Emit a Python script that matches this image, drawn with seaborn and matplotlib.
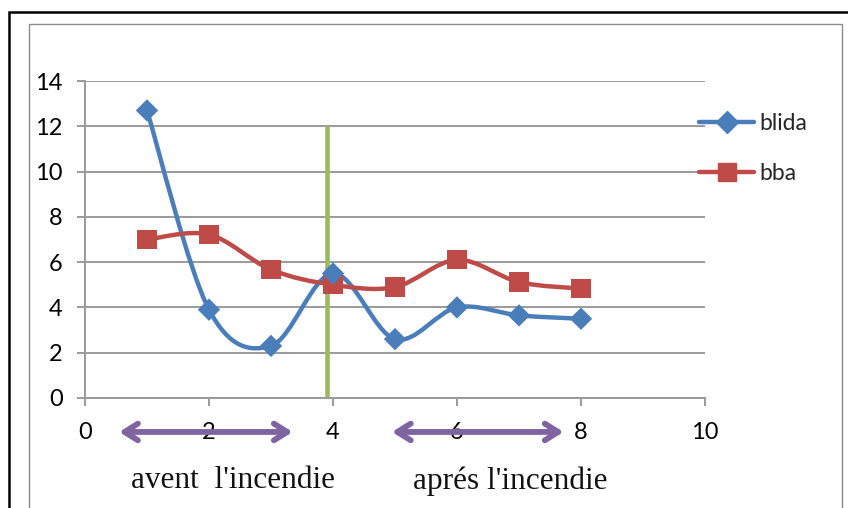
import matplotlib
matplotlib.use("Agg")
import matplotlib.pyplot as plt
from matplotlib.path import Path
from matplotlib.patches import PathPatch, Rectangle
from matplotlib.lines import Line2D
import numpy as np
import pandas as pd
import seaborn as sns

# ---- data ----
x_vals = [1, 2, 3, 4, 5, 6, 7, 8]
blida = [12.7, 3.9, 2.3, 5.5, 2.6, 4.0, 3.65, 3.5]
bba = [7.0, 7.22, 5.67, 5.0, 4.9, 6.1, 5.12, 4.83]
series_names = ["blida", "bba"]
x_ticks = [0, 2, 4, 6, 8, 10]
y_ticks = [0, 2, 4, 6, 8, 10, 12, 14]
fire_x = 3.9
fire_top = 12
before_label = "avent  l'incendie"
after_label = "aprés l'incendie"
before_span = [0.55, 3.35]
after_span = [4.95, 7.72]

BLUE = "#4A7EBB"
RED = "#BE4B48"
GREEN = "#9BBB59"
PURPLE = "#8064A2"
GRID = "#9A9A9A"

sns.set_theme(style="white")
plt.rcParams["font.family"] = ["Lato", "DejaVu Sans"]

fig = plt.figure(figsize=(8.48, 5.08), dpi=100)
W, H = 848, 508
ax = fig.add_axes([85 / W, 1 - 398 / H, (705 - 85) / W, (398 - 81) / H])

# frames
fig.patches.append(Rectangle((9 / W, -0.1), 2, 1 - 12 / H + 0.1, transform=fig.transFigure,
                             fill=False, edgecolor="black", linewidth=1.8, zorder=0))
fig.patches.append(Rectangle((29 / W, -0.1), (842 - 29) / W, 1 - 24 / H + 0.1, transform=fig.transFigure,
                             fill=False, edgecolor="#8C8C8C", linewidth=1.0, zorder=0))


def smooth_path(xs, ys):
    pts = np.column_stack([xs, ys]).astype(float)
    n = len(pts)
    verts = [pts[0]]
    codes = [Path.MOVETO]
    for i in range(n - 1):
        p0 = pts[i - 1] if i > 0 else pts[i]
        p1 = pts[i]
        p2 = pts[i + 1]
        p3 = pts[i + 2] if i + 2 < n else pts[i + 1]
        c1 = p1 + (p2 - p0) / 6.0
        c2 = p2 - (p3 - p1) / 6.0
        verts += [c1, c2, p2]
        codes += [Path.CURVE4] * 3
    return Path(verts, codes)


df = pd.DataFrame({"x": x_vals * 2,
                   "y": blida + bba,
                   "series": [series_names[0]] * len(x_vals) + [series_names[1]] * len(x_vals)})

for name, color in zip(series_names, [BLUE, RED]):
    sub = df[df.series == name]
    ax.add_patch(PathPatch(smooth_path(sub.x.values, sub.y.values), fill=False,
                           edgecolor=color, linewidth=3.2, capstyle="round", zorder=3))

sns.scatterplot(data=df[df.series == "blida"], x="x", y="y", marker="D", s=130,
                color=BLUE, edgecolor="none", ax=ax, zorder=5, legend=False)
sns.scatterplot(data=df[df.series == "bba"], x="x", y="y", marker="s", s=190,
                color=RED, edgecolor="none", ax=ax, zorder=4, legend=False)

# fire line
ax.plot([fire_x, fire_x], [0, fire_top], color=GREEN, linewidth=3.3, zorder=2, solid_capstyle="butt")

ax.set_xlim(0, 10)
ax.set_ylim(0, 14)
ax.set_xticks(x_ticks)
ax.set_yticks(y_ticks)
ax.set_xlabel("")
ax.set_ylabel("")
ax.yaxis.grid(True, color=GRID, linewidth=1.4)
ax.set_axisbelow(True)
for s in ["top", "right"]:
    ax.spines[s].set_visible(False)
for s in ["left", "bottom"]:
    ax.spines[s].set_color(GRID)
    ax.spines[s].set_linewidth(1.4)
ax.tick_params(axis="y", which="both", left=True, length=6, width=1.4, color=GRID,
               labelsize=17, pad=10, labelcolor="#000000")
ax.tick_params(axis="x", which="both", bottom=True, length=6, width=1.4, color=GRID,
               labelsize=17, pad=11, labelcolor="#000000")

# arrows
for span in (before_span, after_span):
    ax.annotate("", xy=(span[0], -1.5), xytext=(span[1], -1.5), xycoords="data",
                annotation_clip=False,
                arrowprops=dict(arrowstyle="<->,head_length=0.8,head_width=0.5",
                                color=PURPLE, linewidth=4.2, shrinkA=0, shrinkB=0))

fig.text(233 / W, 1 - 481 / H, before_label, ha="center", va="center", fontsize=22.5,
         family=["Liberation Serif", "DejaVu Serif"], color="#111111")
fig.text(510 / W, 1 - 481 / H, after_label, ha="center", va="center", fontsize=22.5,
         family=["Liberation Serif", "DejaVu Serif"], color="#111111")

handles = [Line2D([], [], color=BLUE, linewidth=3.2, marker="D", markersize=11),
           Line2D([], [], color=RED, linewidth=3.2, marker="s", markersize=13)]
fig.legend(handles, series_names, loc="upper left", bbox_to_anchor=(699 / W, 1 - 113 / H),
           frameon=False, fontsize=16.5, handlelength=2.4, handletextpad=0.25,
           labelspacing=1.28, borderpad=0, borderaxespad=0)

fig.savefig("out.png", dpi=100)
